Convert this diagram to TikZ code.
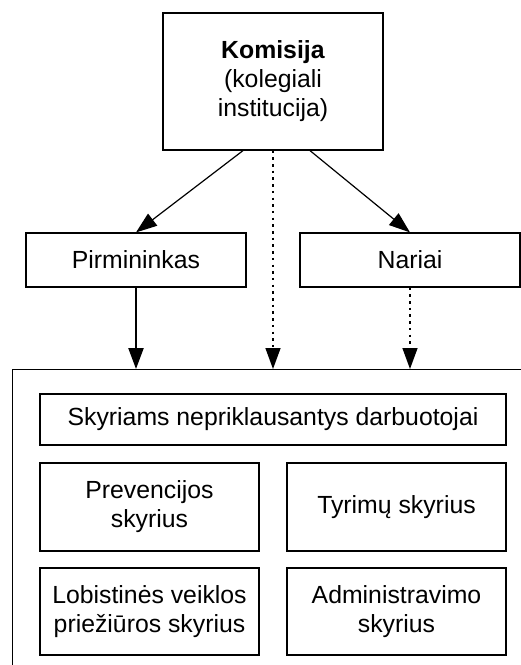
\documentclass[tikz,border=0pt]{standalone}
\usepackage{fontspec}
\setmainfont{Liberation Sans}
\usetikzlibrary{arrows.meta}
\begin{document}
\begin{tikzpicture}[x=1pt,y=-1pt,
  box/.style={draw=black, line width=1.2pt, align=center, inner sep=0pt,
    font=\fontsize{24.8}{29}\selectfont},
  arr/.style={line width=1.2pt, -{Triangle[length=21pt,width=15pt]}},
  thickarr/.style={line width=2.2pt, -{Triangle[length=21pt,width=15pt]}},
  dotarr/.style={line width=1.4pt, dash pattern=on 2.5pt off 4.2pt, -{Triangle[length=21pt,width=15pt]}}]
\useasboundingbox (0,0) rectangle (521,665);
\clip (0,0) rectangle (521,665);
% nodes
\node[box, minimum width=220pt, minimum height=137pt] (kom) at (273,81.5)
  {\textbf{Komisija}\\(kolegiali\\institucija)};
\node[box, minimum width=220pt, minimum height=54pt] (pir) at (136,260) {Pirmininkas};
\node[box, minimum width=220pt, minimum height=54pt] (nar) at (410,260) {Nariai};
\node[box, anchor=north west, minimum width=560pt, minimum height=340pt] (cont) at (12,369) {};
\node[box, minimum width=466pt, minimum height=51pt] (sky) at (273,419.5) {Skyriams nepriklausantys darbuotojai};
\node[box, minimum width=219pt, minimum height=88pt] (prev) at (149.5,507) {Prevencijos\\skyrius};
\node[box, minimum width=219pt, minimum height=88pt] (tyr) at (396.5,507) {Tyrimų skyrius};
\node[box, minimum width=219pt, minimum height=87pt] (lob) at (149.5,611.5) {Lobistinės veiklos\\priežiūros skyrius};
\node[box, minimum width=219pt, minimum height=87pt] (adm) at (396.5,611.5) {Administravimo\\skyrius};
% connectors
\draw[arr] ([xshift=-30pt]kom.south) -- (pir.north);
\draw[arr] ([xshift=37pt]kom.south) -- (nar.north);
\draw[thickarr] (pir.south) -- (pir.south |- cont.north);
\draw[dotarr] (kom.south) -- (kom.south |- cont.north);
\draw[dotarr] (nar.south) -- (nar.south |- cont.north);
\end{tikzpicture}
\end{document}
